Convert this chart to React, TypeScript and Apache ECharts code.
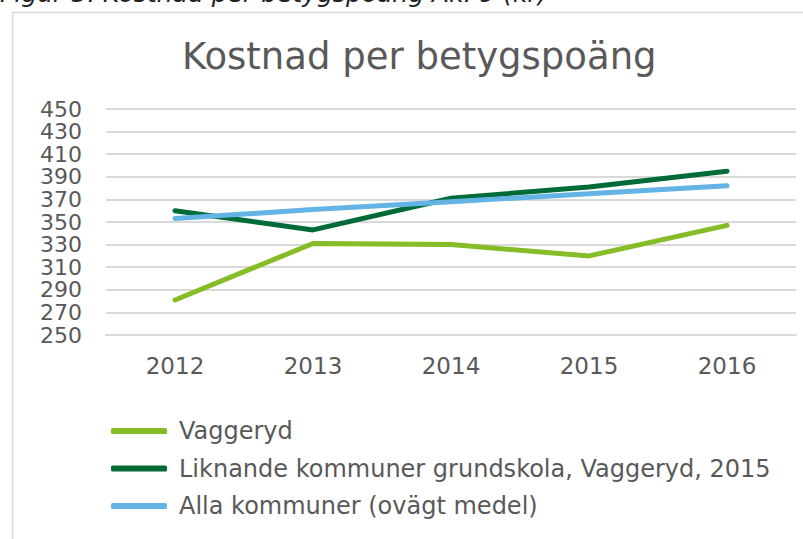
import React, { useEffect, useRef } from "react";
import * as echarts from "echarts";

const years = ["2012", "2013", "2014", "2015", "2016"];
const vaggeryd = [281, 331, 330, 320, 347];
const liknande = [360, 343, 371, 381, 395];
const alla = [353, 361, 368, 375, 382];
const seriesNames = [
  "Vaggeryd",
  "Liknande kommuner grundskola, Vaggeryd, 2015",
  "Alla kommuner (ovägt medel)",
];
const colors = ["#86BC25", "#006B37", "#63B4E4"];

const FONT = "DejaVu Sans";
const TEXT = "#595959";

export default function App() {
  const ref = useRef<HTMLDivElement>(null);
  useEffect(() => {
    const chart = echarts.init(ref.current!, null, { renderer: "svg" });
    const data = [vaggeryd, liknande, alla];
    chart.setOption({
      animation: false,
      backgroundColor: "#ffffff",
      textStyle: { fontFamily: FONT },
      graphic: [
        {
          type: "rect",
          shape: { x: 12.5, y: 12.5, width: 900, height: 700 },
          style: { fill: "none", stroke: "#D9D9D9", lineWidth: 1.5 },
          silent: true,
        },
        {
          type: "text",
          left: 0,
          top: -19,
          style: {
            text: "Figur 5. Kostnad per betygspoäng Åk. 9 (kr)",
            font: `italic 25px '${FONT}'`,
            fill: "#222222",
          },
        },
      ],
      title: {
        text: "Kostnad per betygspoäng",
        left: 177,
        top: 33,
        textStyle: { fontFamily: FONT, fontSize: 37, fontWeight: "normal", color: TEXT },
      },
      grid: { left: 106, right: 7, top: 109, bottom: 204, containLabel: false },
      xAxis: {
        type: "category",
        data: years,
        boundaryGap: true,
        axisLine: { show: true, lineStyle: { color: "#D9D9D9", width: 2 } },
        axisTick: { show: false },
        axisLabel: { color: TEXT, fontSize: 23, fontFamily: FONT, margin: 19 },
      },
      yAxis: {
        type: "value",
        min: 250,
        max: 450,
        interval: 20,
        axisLine: { show: false },
        axisTick: { show: false },
        splitLine: { lineStyle: { color: "#D9D9D9", width: 2 } },
        axisLabel: {
          color: TEXT,
          fontSize: 22,
          fontFamily: FONT,
          margin: 24,
          showMinLabel: true,
          showMaxLabel: true,
        },
      },
      legend: {
        orient: "vertical",
        left: 106,
        top: 414,
        itemWidth: 56,
        itemHeight: 6,
        itemGap: 13.5,
        icon: "roundRect",
        textStyle: {
          color: TEXT,
          fontSize: 24,
          lineHeight: 24,
          fontFamily: FONT,
          padding: [0, 0, 0, 7],
        },
        data: seriesNames,
      },
      series: seriesNames.map((name, i) => ({
        name,
        type: "line",
        data: data[i],
        symbol: "none",
        color: colors[i],
        lineStyle: { width: 5, color: colors[i], cap: "round", join: "round" },
      })),
    });
    return () => chart.dispose();
  }, []);
  return (
    <div
      ref={ref}
      style={{ position: "fixed", left: 0, top: 0, width: 803, height: 539 }}
    />
  );
}
